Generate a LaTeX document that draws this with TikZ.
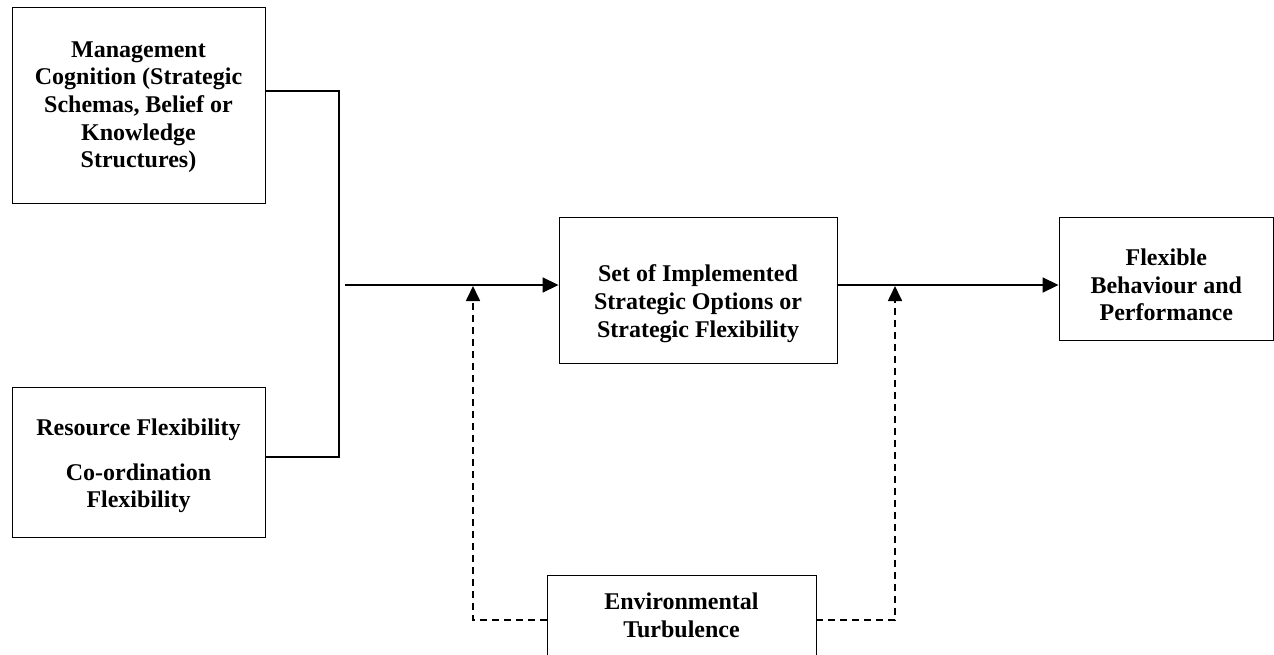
\documentclass[tikz,border=0pt]{standalone}
\usepackage{fontspec}
\setmainfont{Liberation Serif}
\usetikzlibrary{arrows.meta}
\newcommand{\shifttext}[2]{\raisebox{#1}[\height][\depth]{\begin{tabular}{@{}c@{}}#2\end{tabular}}}
\begin{document}
\begin{tikzpicture}[x=1pt,y=-1pt,
  box/.style={draw,line width=0.9pt,rectangle,align=center,inner sep=0pt,
    font=\fontsize{24}{27.7}\selectfont\bfseries},
  conn/.style={line width=1.7pt},
  arr/.style={conn,-{Triangle[length=16pt,width=15pt]}},
  dconn/.style={line width=1.7pt,dash pattern=on 7pt off 5pt},
  darr/.style={dconn,-{Triangle[length=15pt,width=14pt]}}]
\useasboundingbox (0,0) rectangle (1274,654);
\node[box,minimum width=253pt,minimum height=196pt] (mc) at (138.5,105)
  {\shifttext{-2pt}{Management\\Cognition (Strategic\\Schemas, Belief or\\Knowledge\\Structures)}};
\node[box,minimum width=253pt,minimum height=150pt] (rf) at (138.5,462)
  {\shifttext{-4pt}{Resource Flexibility\\[17pt]Co-ordination\\Flexibility}};
\node[box,minimum width=278pt,minimum height=146pt] (so) at (698,290)
  {\shifttext{-14pt}{Set of Implemented\\Strategic Options or\\Strategic Flexibility}};
\node[box,minimum width=214.5pt,minimum height=123pt] (fb) at (1166.25,278.5)
  {\shifttext{-9pt}{Flexible\\Behaviour and\\Performance}};
\node[box,minimum width=269pt,minimum height=90pt] (env) at (681.5,620)
  {\shifttext{2pt}{Environmental\\Turbulence}};
\coordinate (jt) at (339,91);
\coordinate (jb) at (339,457);
\coordinate (js) at (345,285);
\coordinate (dl) at (473,620);
\coordinate (dr) at (895,620);
\coordinate (tl) at (473,286);
\coordinate (tr) at (895,286);
\draw[conn] (mc.east |- jt) -- (jt) -- (jb) -- (rf.east |- jb);
\draw[arr] (js) -- (so.west |- js);
\draw[arr] (so.east |- js) -- (fb.west |- js);
\draw[darr] (env.west |- dl) -- (dl) -- (tl);
\draw[darr] (env.east |- dr) -- (dr) -- (tr);
\end{tikzpicture}
\end{document}
